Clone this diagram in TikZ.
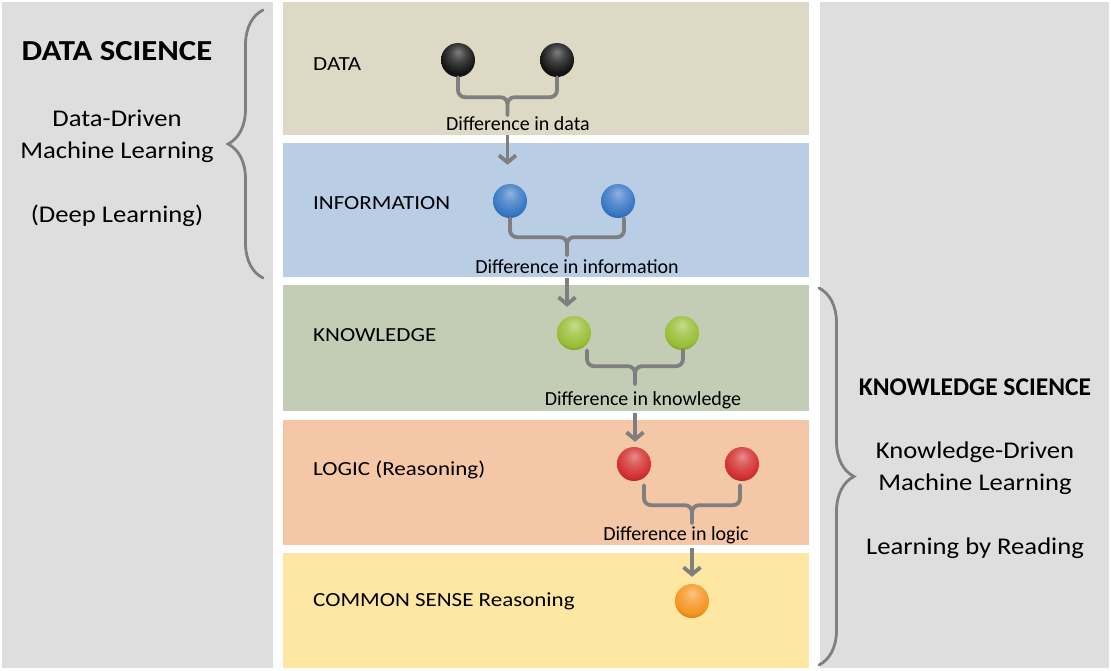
\documentclass[tikz,border=0pt]{standalone}
\usepackage{fontspec}
\setmainfont{Carlito}
\newfontfamily\bandfont{Carlito}[FakeStretch=1.15]
\newfontfamily\sidefont{Carlito}[FakeStretch=1.11]
\newfontfamily\titlefont{Carlito}[FakeStretch=1.13]
\usetikzlibrary{arrows.meta}
\usetikzlibrary{decorations.pathreplacing}
\usetikzlibrary{calc}

\definecolor{panelgray}{HTML}{DEDEDE}
\definecolor{datatan}{HTML}{DDD9C4}
\definecolor{infoblue}{HTML}{B9CDE5}
\definecolor{knowgreen}{HTML}{C3CCB4}
\definecolor{logicpeach}{HTML}{F4C7A7}
\definecolor{senseyellow}{HTML}{FEE7A3}
\definecolor{bracegray}{HTML}{7F7F7F}
\definecolor{balldark}{HTML}{141414}
\definecolor{ballblue}{HTML}{3777C4}
\definecolor{ballgreen}{HTML}{98BE34}
\definecolor{ballred}{HTML}{D42F2F}
\definecolor{ballorange}{HTML}{F5951F}
\colorlet{ballfill}{black}

\pgfdeclareradialshading[ballfill]{glossy}{\pgfpoint{0bp}{12bp}}{%
  color(0bp)=(ballfill!55!white); color(12bp)=(ballfill!80!white);
  color(26bp)=(ballfill); color(34bp)=(ballfill!75!black);
  color(60bp)=(ballfill!60!black)}

\tikzset{
  ball/.style={circle, minimum size=34pt, inner sep=0pt,
    /utils/exec={\colorlet{ballfill}{#1}}, shading=glossy},
  levellabel/.style={anchor=west, inner sep=0pt, font=\bandfont\fontsize{20}{24}\selectfont},
  difflabel/.style={inner sep=1pt, font=\fontsize{20}{24}\selectfont},
  sidetitle/.style={font=\titlefont\fontsize{29}{34}\selectfont\bfseries},
  sidetext/.style={align=center, font=\sidefont\fontsize{24}{32}\selectfont},
  pairbrace/.style={draw=bracegray, line width=3.8pt, line cap=round, rounded corners=7pt},
  bigbrace/.style={draw=bracegray, line width=2.8pt, line cap=round,
    decorate, decoration={brace, amplitude=35pt}},
  flow/.style={draw=bracegray, line width=3.8pt, shorten <=3pt,
    -{Straight Barb[length=7pt, width=17pt]}}
}

\begin{document}
\begin{tikzpicture}[x=1pt, y=-1pt]
    \useasboundingbox (0,0) rectangle (1111,670);
    \fill[white] (0,0) rectangle (1111,670);
    \fill[panelgray] (2,2) rectangle (273,668);
    \fill[panelgray] (820,2) rectangle (1109,668);

    \foreach \top/\bot/\col in {2/135/datatan, 143/277/infoblue, 285/411/knowgreen,
        420/545/logicpeach, 553/668/senseyellow}
        { \fill[\col] (283,\top) rectangle (809,\bot); }

    \node[levellabel] (data) at (313,64) {DATA};
    \node[levellabel] (info) at (313,203) {INFORMATION};
    \node[levellabel] (know) at (313,335) {KNOWLEDGE};
    \node[levellabel] (logic) at (313,470) {LOGIC (Reasoning)};
    \node[levellabel] (sense) at (313,601) {COMMON SENSE Reasoning};

    \node[ball=balldark] (d1) at (458,60) {};
    \node[ball=balldark] (d2) at (557,60) {};
    \node[ball=ballblue] (i1) at (510,201) {};
    \node[ball=ballblue] (i2) at (618,201) {};
    \node[ball=ballgreen] (k1) at (574,333) {};
    \node[ball=ballgreen] (k2) at (682,333) {};
    \node[ball=ballred] (l1) at (634,464) {};
    \node[ball=ballred] (l2) at (742,464) {};
    \node[ball=ballorange] (c1) at (692,601) {};

    \coordinate (da) at (d1.south);
    \coordinate (db) at (d2.south);
    \coordinate (ia) at (i1.south);
    \coordinate (ib) at ($(i2.south)+(6,0)$);
    \coordinate (ka) at ($(k1.south)+(13,0)$);
    \coordinate (kb) at ($(k2.south)+(1,0)$);
    \coordinate (la) at ($(l1.south)+(10,4)$);
    \coordinate (lb) at ($(l2.south)+(-2,4)$);
    \coordinate (dtip) at ($(da)!.5!(db)+(0,20)$);
    \coordinate (itip) at ($(ia)!.5!(ib)+(0,19)$);
    \coordinate (ktip) at ($(ka)!.5!(kb)+(0,16)$);
    \coordinate (ltip) at ($(la)!.5!(lb)+(0,20)$);

    \draw[pairbrace] (da) |- (dtip) -- ++(0,18) (db) |- (dtip) -- ++(0,18);
    \draw[pairbrace] (ia) |- (itip) -- ++(0,18) (ib) |- (itip) -- ++(0,18);
    \draw[pairbrace] (ka) |- (ktip) -- ++(0,18) (kb) |- (ktip) -- ++(0,18);
    \draw[pairbrace] (la) |- (ltip) -- ++(0,18) (lb) |- (ltip) -- ++(0,18);

    \node[difflabel] (dlab) at (518,124) {Difference in data};
    \node[difflabel] (ilab) at (577,267) {Difference in information};
    \node[difflabel] (klab) at (643,400) {Difference in knowledge};
    \node[difflabel] (llab) at (676,535) {Difference in logic};

    \draw[flow, shorten >=19pt] (dlab.south -| dtip) -- (dtip |- i1.north);
    \draw[flow, shorten >=9pt] (ilab.south -| itip) -- (itip |- k1.north);
    \draw[flow, shorten >=5pt] (klab.south -| ktip) -- (ktip |- l1.north);
    \draw[flow, shorten >=7pt] (llab.south -| ltip) -- (ltip |- c1.north);

    \node[sidetitle] (dsci) at (117,51) {DATA SCIENCE};
    \node[sidetext] (dml) at (117,136) {Data-Driven\\Machine Learning};
    \node[sidetext] (deep) at (117,216) {(Deep Learning)};
    \draw[bigbrace] (263,278) -- (263,10);

    \node[sidetitle, font=\fontsize{25.5}{30}\selectfont\bfseries] (ksci) at (975,387) {KNOWLEDGE SCIENCE};
    \node[sidetext] (kml) at (975,468) {Knowledge-Driven\\Machine Learning};
    \node[sidetext] (read) at (975,548) {Learning by Reading};
    \draw[bigbrace] (819,288) -- (819,665);
\end{tikzpicture}
\end{document}
